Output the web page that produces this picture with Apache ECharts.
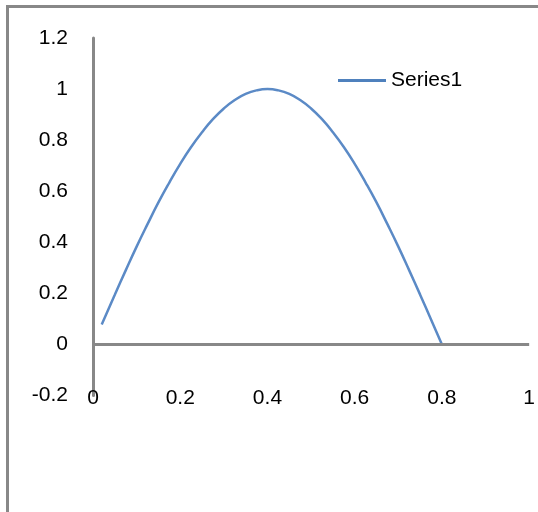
<!DOCTYPE html>
<html>
<head>
<meta charset="utf-8">
<script src="https://cdn.jsdelivr.net/npm/echarts@6/dist/echarts.min.js"></script>
<style>
html,body{margin:0;padding:0;background:#fff;}
#chart{width:538px;height:512px;}
</style>
</head>
<body>
<div id="chart"></div>
<script>
// Data
const seriesName = 'Series1';
const xValues = [0.02, 0.05, 0.075, 0.10, 0.125, 0.15, 0.175, 0.20, 0.225, 0.25, 0.275, 0.30, 0.325, 0.35, 0.375, 0.40,
                 0.425, 0.45, 0.475, 0.50, 0.525, 0.55, 0.575, 0.60, 0.625, 0.65, 0.675, 0.70, 0.725, 0.75, 0.775, 0.80];
const yValues = [0.078, 0.195, 0.290, 0.383, 0.471, 0.556, 0.634, 0.707, 0.773, 0.831, 0.882, 0.924, 0.957, 0.981, 0.995, 1.000,
                 0.995, 0.981, 0.957, 0.924, 0.882, 0.831, 0.773, 0.707, 0.634, 0.556, 0.471, 0.383, 0.290, 0.195, 0.098, 0.000];
const xTicks = [0, 0.2, 0.4, 0.6, 0.8, 1];
const yTicks = [-0.2, 0, 0.2, 0.4, 0.6, 0.8, 1, 1.2];

const points = xValues.map((x, i) => [x, yValues[i]]);
const FONT = '"Liberation Sans", Arial, sans-serif';
const AXIS_GRAY = '#888888';

const chart = echarts.init(document.getElementById('chart'), null, {renderer: 'canvas'});
chart.setOption({
  animation: false,
  backgroundColor: '#ffffff',
  grid: {left: 93, right: 8.5, top: 38, bottom: 116.5, containLabel: false},
  graphic: [
    {type: 'line', shape: {x1: 6, y1: 6.5, x2: 538, y2: 6.5}, style: {stroke: AXIS_GRAY, lineWidth: 3}},
    {type: 'line', shape: {x1: 7.5, y1: 5, x2: 7.5, y2: 512}, style: {stroke: AXIS_GRAY, lineWidth: 3}}
  ],
  legend: {
    left: 338,
    top: 70,
    padding: 0,
    icon: 'rect',
    itemWidth: 48,
    itemHeight: 3,
    itemGap: 5,
    textStyle: {fontFamily: FONT, fontSize: 21, color: '#000'},
    data: [{name: seriesName, itemStyle: {color: '#4F81BD'}}]
  },
  xAxis: {
    type: 'value',
    min: xTicks[0],
    max: xTicks[xTicks.length - 1],
    interval: 0.2,
    axisLine: {show: false},
    axisTick: {show: false},
    splitLine: {show: false},
    axisLabel: {
      fontFamily: FONT, fontSize: 21, color: '#000',
      margin: 3, verticalAlign: 'middle',
      showMinLabel: true, showMaxLabel: true,
      formatter: v => String(+v.toFixed(1))
    }
  },
  yAxis: {
    type: 'value',
    min: yTicks[0],
    max: yTicks[yTicks.length - 1],
    interval: 0.2,
    axisLine: {show: true, onZero: false, lineStyle: {color: AXIS_GRAY, width: 3}},
    axisTick: {show: false},
    splitLine: {show: false},
    axisLabel: {
      fontFamily: FONT, fontSize: 21, color: '#000', margin: 25,
      showMinLabel: true, showMaxLabel: true,
      formatter: v => String(+v.toFixed(1))
    }
  },
  series: [{
    name: seriesName,
    type: 'line',
    data: points,
    smooth: true,
    showSymbol: false,
    symbol: 'none',
    lineStyle: {color: '#5B8AC6', width: 2.5},
    itemStyle: {color: '#4F81BD'},
    markLine: {
      silent: true,
      symbol: 'none',
      label: {show: false},
      lineStyle: {color: AXIS_GRAY, width: 3, type: 'solid'},
      data: [{yAxis: 0}]
    },
    z: 3
  }]
});
</script>
</body>
</html>
